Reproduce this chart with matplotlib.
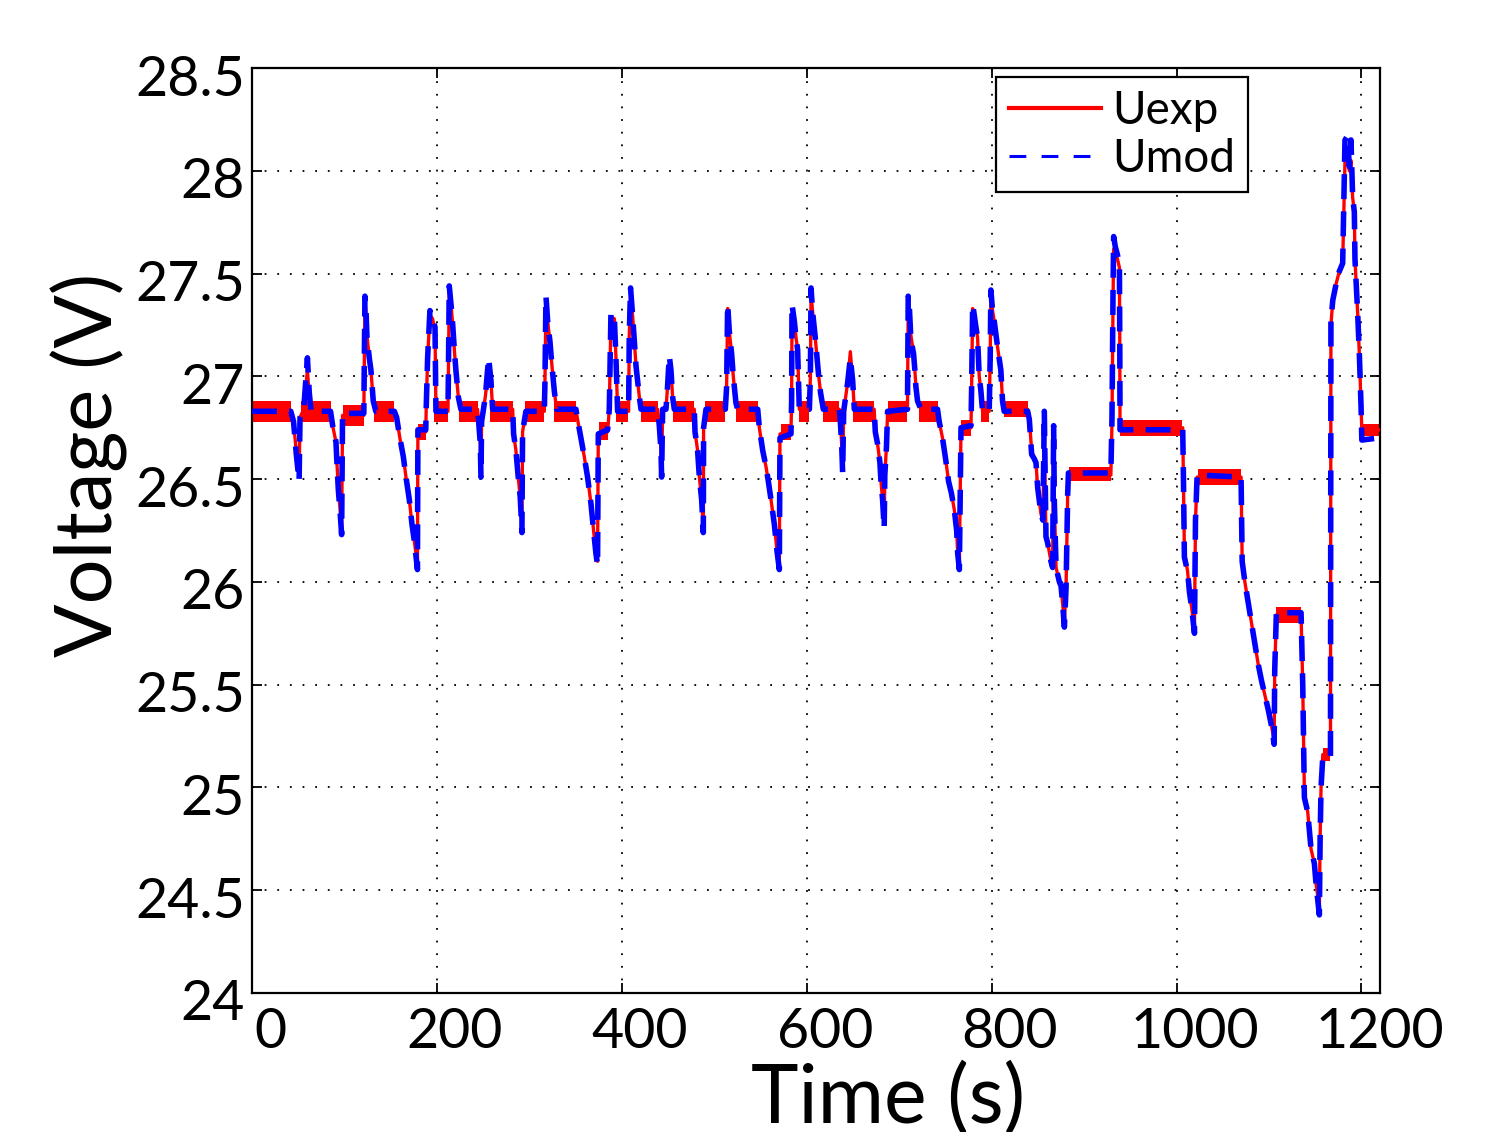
import matplotlib
matplotlib.use('Agg')
import matplotlib.pyplot as plt
from matplotlib.transforms import ScaledTranslation

plt.rcParams['font.family'] = ['Lato', 'DejaVu Sans']

# time axis (s) shared by both curves
t = [0, 42, 45, 48, 51, 52, 56, 60, 62, 64,
     85, 87.3, 90.9, 91.9, 93.4, 95.5, 97, 98,
     121, 121.5, 122.2, 123.3, 124.4, 126.9, 128.7, 131.2, 134,
     154, 156.5, 160, 163.7, 166.6, 170.2, 173.1, 175.6, 179, 179.5,
     188, 188.5, 190, 192.5, 195.4, 198, 199,
     212, 212.4, 213.4, 215.3, 217, 218.9, 220.6, 223.2, 226,
     244, 245.2, 247, 247.7, 248.4, 252.4, 256, 258.5, 260.3,
     282, 283, 285.5, 288, 290.2, 292, 292.7, 296.3,
     316.2, 316.9, 318, 319.8, 322.3, 324.5, 327, 329.5,
     350.4, 352.2, 355.8, 359.4, 363, 366.7, 369.5, 372, 373.8, 374.6,
     384.7, 386.5, 388.3, 392, 393.7, 395.5,
     407.4, 408.1, 409.5, 411.8, 413.6, 415.4, 419, 420.8,
     438.8, 440.6, 442.4, 443.1, 444.2, 447.8, 449.5, 451.4, 453.2, 455, 456.8,
     478.4, 479.2, 482, 483.9, 486.4, 488.2, 488.5, 491.1,
     512, 513.4, 514.5, 516.3, 518.8, 520.6, 523.5, 525.3,
     547, 548.8, 552.4, 556, 558.5, 561.4, 565, 567.9, 570.4, 571.1,
     583, 583.7, 584.1, 586.6, 588.4, 590.2, 592,
     602.9, 604, 604.7, 606.5, 609, 611, 613, 615, 618,
     635.3, 636.4, 637.8, 638.9, 640, 644.3, 647.2, 649.7, 651.5,
     673, 674.2, 676.7, 679.2, 680.3, 682.1, 683.8, 684.5, 686.3, 687.5,
     709, 709.8, 710.9, 712.7, 715.6, 717, 718.1, 719.9, 723.5,
     741.5, 743.3, 746.9, 750.5, 753.4, 756.6, 759.7, 762.2, 763.3, 765.1, 766.9,
     777.7, 778.4, 779.5, 781.2, 783, 784.8, 786.6, 788.4, 790.2,
     797.4, 798.5, 799.2, 801, 802.8, 806.5, 810, 811.8, 813.6,
     839, 840.8, 843.3, 846, 848, 849.8, 853.4, 855.5, 856.3, 857, 858.8, 860.6,
     864.2, 866, 867.1, 867.8, 869.7, 873.3, 875.1, 876.9, 878.7, 880.5, 882.3, 883.1,
     929, 930.2, 931.3, 932, 933.8, 935.6, 938.2, 938.6, 938.9,
     1006.7, 1007.5, 1008.5, 1012, 1014, 1016.5, 1019.4, 1020.5, 1022.3,
     1069.8, 1071, 1073.9, 1077.5, 1081, 1084.7, 1088.3, 1091.9, 1095.5, 1099.1, 1102.7, 1105.6, 1106.2, 1108,
     1134.7, 1136.5, 1138.3, 1141.9, 1145.5, 1149.1, 1150.9, 1154.5, 1155.3, 1156.3, 1158.2,
     1166.5, 1167, 1169, 1172.6, 1176, 1179.7, 1182.2, 1185, 1186.9, 1188.7, 1190.5, 1192.3, 1193,
     1196, 1197.8, 1199.6, 1200.4, 1218, 1220]

# model voltage (V)
u_mod = [26.83, 26.83, 26.78, 26.62, 26.49, 26.80, 26.84, 27.09, 26.92, 26.83,
         26.83, 26.76, 26.68, 26.58, 26.45, 26.33, 26.23, 26.82,
         26.82, 27.06, 27.39, 27.33, 27.19, 27.09, 27.03, 26.88, 26.83,
         26.83, 26.80, 26.70, 26.61, 26.51, 26.40, 26.28, 26.20, 26.06, 26.74,
         26.74, 26.85, 27.09, 27.32, 27.28, 27.24, 26.83,
         26.83, 26.98, 27.44, 27.35, 27.26, 27.13, 27.03, 26.90, 26.84,
         26.84, 26.78, 26.67, 26.51, 26.78, 26.90, 27.09, 26.98, 26.84,
         26.84, 26.72, 26.64, 26.51, 26.41, 26.24, 26.73, 26.83,
         26.83, 26.97, 27.39, 27.27, 27.17, 27.05, 26.93, 26.84,
         26.84, 26.79, 26.70, 26.61, 26.51, 26.38, 26.25, 26.14, 26.08, 26.72,
         26.74, 26.84, 27.31, 27.28, 27.09, 26.83,
         26.83, 27.20, 27.43, 27.29, 27.17, 27.05, 26.90, 26.84,
         26.84, 26.76, 26.64, 26.51, 26.84, 26.84, 26.95, 27.10, 27.03, 26.90, 26.84,
         26.84, 26.73, 26.64, 26.51, 26.40, 26.24, 26.75, 26.84,
         26.84, 26.95, 27.35, 27.22, 27.11, 27.00, 26.87, 26.84,
         26.84, 26.75, 26.64, 26.56, 26.49, 26.40, 26.28, 26.15, 26.06, 26.70,
         26.72, 26.88, 27.35, 27.27, 27.19, 27.13, 26.84,
         26.84, 27.00, 27.43, 27.31, 27.20, 27.10, 27.00, 26.92, 26.84,
         26.84, 26.78, 26.67, 26.53, 26.83, 26.97, 27.09, 26.98, 26.84,
         26.84, 26.73, 26.67, 26.58, 26.49, 26.40, 26.26, 26.52, 26.66, 26.83,
         26.84, 27.39, 27.35, 27.18, 27.11, 27.03, 26.95, 26.88, 26.84,
         26.84, 26.78, 26.70, 26.59, 26.49, 26.43, 26.35, 26.25, 26.14, 26.06, 26.75,
         26.76, 26.95, 27.35, 27.30, 27.24, 27.19, 27.00, 26.93, 26.83,
         26.83, 27.10, 27.42, 27.32, 27.27, 27.14, 27.03, 26.88, 26.83,
         26.83, 26.79, 26.62, 26.60, 26.58, 26.46, 26.33, 26.30, 26.60, 26.83, 26.22, 26.19,
         26.10, 26.07, 26.76, 26.40, 26.07, 26.00, 25.98, 25.89, 25.78, 25.97, 26.43, 26.53,
         26.53, 26.80, 27.40, 27.68, 27.63, 27.60, 27.55, 27.20, 26.74,
         26.74, 26.50, 26.12, 26.05, 25.95, 25.87, 25.75, 26.30, 26.52,
         26.51, 26.10, 26.00, 25.90, 25.80, 25.70, 25.60, 25.52, 25.45, 25.38, 25.30, 25.21, 25.57, 25.85,
         25.85, 25.50, 24.95, 24.88, 24.70, 24.63, 24.53, 24.38, 24.75, 25.00, 25.15,
         25.15, 27.27, 27.37, 27.45, 27.51, 27.55, 28.15, 28.17, 28.02, 28.15, 27.87, 27.80, 27.57,
         27.30, 27.10, 26.85, 26.69, 26.70, 26.71]

# measured voltage (V), centre of the noisy trace
u_exp = [26.83, 26.83, 26.78, 26.63, 26.52, 26.80, 26.84, 27.03, 26.90, 26.83,
         26.83, 26.76, 26.68, 26.58, 26.46, 26.34, 26.24, 26.81,
         26.81, 27.04, 27.36, 27.32, 27.20, 27.09, 27.03, 26.88, 26.83,
         26.83, 26.80, 26.70, 26.61, 26.51, 26.40, 26.28, 26.20, 26.08, 26.73,
         26.73, 26.85, 27.09, 27.30, 27.28, 27.22, 26.83,
         26.83, 26.98, 27.41, 27.35, 27.26, 27.13, 27.03, 26.90, 26.84,
         26.84, 26.78, 26.67, 26.53, 26.78, 26.90, 27.05, 26.98, 26.84,
         26.84, 26.72, 26.64, 26.51, 26.41, 26.26, 26.73, 26.83,
         26.83, 26.97, 27.36, 27.27, 27.17, 27.05, 26.93, 26.84,
         26.84, 26.79, 26.70, 26.61, 26.51, 26.38, 26.25, 26.14, 26.10, 26.72,
         26.73, 26.84, 27.29, 27.28, 27.09, 26.83,
         26.83, 27.20, 27.40, 27.29, 27.17, 27.05, 26.90, 26.84,
         26.84, 26.76, 26.64, 26.53, 26.84, 26.84, 26.95, 27.06, 27.03, 26.90, 26.84,
         26.84, 26.73, 26.64, 26.51, 26.40, 26.26, 26.75, 26.84,
         26.84, 26.95, 27.33, 27.22, 27.11, 27.00, 26.87, 26.84,
         26.84, 26.75, 26.64, 26.56, 26.49, 26.40, 26.28, 26.15, 26.08, 26.72,
         26.73, 26.88, 27.30, 27.27, 27.19, 27.13, 26.84,
         26.84, 27.00, 27.40, 27.31, 27.20, 27.10, 27.00, 26.92, 26.84,
         26.84, 26.78, 26.67, 26.55, 26.83, 26.97, 27.12, 26.98, 26.84,
         26.84, 26.73, 26.67, 26.58, 26.49, 26.40, 26.28, 26.52, 26.66, 26.83,
         26.84, 27.36, 27.33, 27.20, 27.11, 27.03, 26.95, 26.88, 26.84,
         26.84, 26.78, 26.70, 26.59, 26.49, 26.43, 26.35, 26.25, 26.14, 26.08, 26.75,
         26.75, 26.95, 27.33, 27.30, 27.24, 27.19, 27.00, 26.93, 26.83,
         26.83, 27.10, 27.38, 27.32, 27.27, 27.14, 27.03, 26.88, 26.83,
         26.84, 26.79, 26.64, 26.60, 26.58, 26.46, 26.33, 26.30, 26.55, 26.70, 26.22, 26.19,
         26.10, 26.07, 26.70, 26.40, 26.07, 26.00, 25.98, 25.89, 25.80, 25.97, 26.43, 26.52,
         26.52, 26.78, 27.35, 27.62, 27.60, 27.58, 27.53, 27.20, 26.75,
         26.75, 26.50, 26.15, 26.05, 25.95, 25.87, 25.77, 26.30, 26.51,
         26.51, 26.10, 26.00, 25.90, 25.80, 25.70, 25.60, 25.52, 25.45, 25.38, 25.30, 25.23, 25.57, 25.84,
         25.84, 25.50, 24.97, 24.88, 24.70, 24.63, 24.53, 24.42, 24.75, 25.00, 25.16,
         25.16, 27.25, 27.37, 27.45, 27.51, 27.55, 28.05, 28.05, 28.00, 28.05, 27.87, 27.80, 27.57,
         27.30, 27.10, 26.85, 26.74, 26.74, 26.74]

# measurement noise band on the steady parts of Uexp
band_start = [0, 53, 98, 132, 180, 197, 224, 258, 295, 327, 375, 394, 421, 455, 490, 524,
              572, 592, 618, 650, 688, 721, 767, 789, 813, 884, 939, 1023, 1108, 1158, 1201]
band_end = [42, 86, 121, 154, 188, 212, 244, 282, 316, 350, 385, 407, 439, 478, 512, 547,
            583, 603, 635, 673, 709, 742, 778, 797, 839, 929, 1006, 1070, 1135, 1166, 1220]
band_lo = [26.78, 26.78, 26.76, 26.78, 26.69, 26.78, 26.78, 26.78, 26.78, 26.78, 26.69, 26.78,
           26.78, 26.78, 26.78, 26.78, 26.69, 26.78, 26.78, 26.78, 26.78, 26.78, 26.71, 26.78,
           26.80, 26.49, 26.71, 26.47, 25.80, 25.13, 26.71]
band_hi = [26.88, 26.88, 26.86, 26.88, 26.77, 26.88, 26.88, 26.88, 26.88, 26.88, 26.78, 26.88,
           26.88, 26.88, 26.88, 26.88, 26.77, 26.88, 26.88, 26.88, 26.88, 26.88, 26.79, 26.88,
           26.88, 26.56, 26.79, 26.55, 25.88, 25.19, 26.77]

x_ticks = [0, 200, 400, 600, 800, 1000, 1200]
y_ticks = [24, 24.5, 25, 25.5, 26, 26.5, 27, 27.5, 28, 28.5]

fig = plt.figure(figsize=(14.97, 11.32), dpi=100)
ax = fig.add_axes([0.1683, 0.1228, 0.7535, 0.8171])

for t0, t1, lo, hi in zip(band_start, band_end, band_lo, band_hi):
    ax.fill_between([t0, t1], [lo, lo], [hi, hi], color='red', linewidth=0, zorder=2)

ax.plot(t, u_exp, color='red', linewidth=2.4, label='Uexp', zorder=3)
ax.plot(t, u_mod, color='blue', linewidth=4.0, dashes=(4.5, 2.2), label='Umod', zorder=4)

ax.set_xlim(0, 1220)
ax.set_ylim(24, 28.5)
ax.set_xticks(x_ticks)
ax.set_yticks(y_ticks)
ax.set_yticklabels(['%g' % v for v in y_ticks])

ax.grid(True, color='black', linestyle=(0, (1, 6)), linewidth=1.3)
ax.tick_params(direction='in', length=7, width=1.3, top=True, right=True,
               labelsize=40, pad=10)
ax.tick_params(axis='y', pad=5)
for sp in ax.spines.values():
    sp.set_linewidth(1.6)

# tick labels sit slightly right (x) and low (y) of their ticks in the original
x_shift = ScaledTranslation(18 / 100, 0, fig.dpi_scale_trans)
y_shift = ScaledTranslation(0, -7 / 100, fig.dpi_scale_trans)
for lab in ax.get_xticklabels():
    lab.set_transform(lab.get_transform() + x_shift)
for lab in ax.get_yticklabels():
    lab.set_transform(lab.get_transform() + y_shift)

# the original figure runs the x label into the bottom edge
ax.set_xlabel('Time (s)', fontsize=58)
ax.set_ylabel('Voltage (V)', fontsize=57)
ax.xaxis.set_label_coords(0.564, -0.074)
ax.yaxis.set_label_coords(-0.11, 0.571)

leg = ax.legend(loc='upper right', bbox_to_anchor=(0.883, 0.990), borderaxespad=0,
                fontsize=33, fancybox=False, framealpha=1, edgecolor='black',
                handlelength=2.0, handletextpad=0.25, borderpad=0.28, labelspacing=0.12)
leg.get_frame().set_linewidth(1.6)
leg_lines = leg.get_lines()
leg_lines[0].set_linewidth(3.0)
leg_lines[1].set_linewidth(2.2)
leg_lines[1].set_dashes((5.5, 5))

fig.savefig('out.png', dpi=100, facecolor='white')
